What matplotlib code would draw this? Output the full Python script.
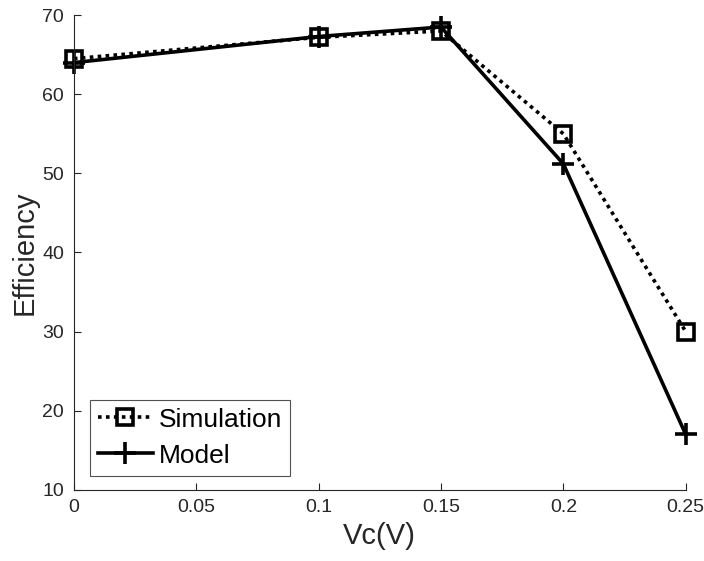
import matplotlib.pyplot as plt

# data
vc = [0, 0.1, 0.15, 0.2, 0.25]
simulation = [64.5, 67.2, 68.0, 55.0, 30.0]
model = [64.0, 67.3, 68.5, 51.2, 17.0]

xticks = [0, 0.05, 0.1, 0.15, 0.2, 0.25]
xticklabels = ['0', '0.05', '0.1', '0.15', '0.2', '0.25']
yticks = [10, 20, 30, 40, 50, 60, 70]

plt.rcParams['font.family'] = ['Liberation Sans', 'DejaVu Sans']
axis_col = '#262626'

fig = plt.figure(figsize=(7.04, 5.61), dpi=100)
ax = fig.add_axes([0.105, 0.127, 0.869, 0.846])

ax.plot(vc, simulation, color='black', linestyle=(0, (1, 1.2)), linewidth=2.6,
        marker='s', markersize=11, markerfacecolor='none', markeredgewidth=2.6,
        label='Simulation', clip_on=False)
ax.plot(vc, model, color='black', linestyle='-', linewidth=2.6,
        marker='+', markersize=16, markeredgewidth=2.6, label='Model',
        clip_on=False)

ax.set_xlim(0, 0.25)
ax.set_ylim(10, 70)
ax.set_xticks(xticks)
ax.set_xticklabels(xticklabels)
ax.set_yticks(yticks)

for side in ['top', 'right']:
    ax.spines[side].set_visible(False)
for side in ['left', 'bottom']:
    ax.spines[side].set_color(axis_col)
    ax.spines[side].set_linewidth(0.8)
ax.tick_params(direction='in', length=5, width=0.8, color=axis_col,
               labelcolor=axis_col, labelsize=14, pad=7)

ax.set_xlabel('Vc(V)', fontsize=21, color=axis_col, labelpad=4)
ax.set_ylabel('Efficiency', fontsize=21, color=axis_col, labelpad=3)

leg = ax.legend(loc='lower left', fontsize=19, frameon=True, fancybox=False,
                edgecolor=axis_col, handlelength=2.1, handletextpad=0.2,
                borderpad=0.3, labelspacing=0.45, borderaxespad=0,
                bbox_to_anchor=(0.026, 0.03))
leg.get_frame().set_linewidth(0.8)

fig.savefig('out.png', dpi=100)
